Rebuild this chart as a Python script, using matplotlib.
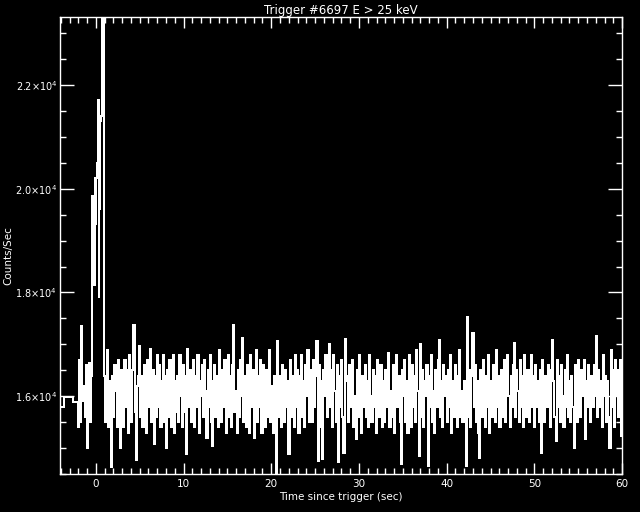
import numpy as np
import matplotlib
matplotlib.use("Agg")
import matplotlib.pyplot as plt
from matplotlib.ticker import MultipleLocator, FixedLocator, FixedFormatter

# slow (1.024 s) bins before the fast data starts
slow_edges = [-4.656, -3.632, -2.608, -2.048]
slow_rate = [15790, 15980, 15885]

# 0.128 s bins from -2.048 to -0.512
pre_rate = [15400, 16700, 15500, 17350, 15900, 16200, 15600, 16600,
            15000, 16300, 16650, 15500]

# 0.064 s bins from -0.512 to 0.960 (the burst)
burst_rate = [16400, 17400, 19850, 19850, 18900, 18150, 18900, 20200,
              19300, 20200, 20500, 20500, 21700, 17900, 19600, 21200,
              21300, 21400, 21400, 23800, 24500, 24000, 16500]

# 0.128 s bins from 0.960 onwards, 8 bins per row
post_rate = [
    16400, 15500, 16900, 15400, 16300, 15700, 14630, 16400,
    15600, 16600, 16100, 15400, 16700, 15600, 15000, 16500,
    16300, 15400, 16700, 15800, 16500, 15300, 16800, 16000,
    15500, 16500, 17380, 15700, 14770, 16200, 16400, 16960,
    15600, 16400, 15400, 16600, 16000, 15300, 16700, 15800,
    16300, 16920, 15500, 16500, 15080, 16400, 15600, 16800,
    15800, 16600, 15400, 16300, 16800, 15500, 16400, 15000,
    16500, 15600, 16700, 15400, 16200, 16800, 15300, 16300,
    15700, 16400, 15500, 16800, 16000, 15400, 16600, 15700,
    16400, 14880, 16920, 15800, 16500, 15500, 16300, 16700,
    15400, 16400, 15800, 16800, 15300, 16300, 16000, 16600,
    15600, 16700, 16100, 15190, 16500, 15800, 16800, 15500,
    15040, 16300, 16600, 15600, 16400, 15400, 16900, 16100,
    15500, 16500, 15800, 16700, 15300, 16300, 16800, 15600,
    16400, 15400, 16600, 17380, 15700, 16100, 15300, 16500,
    15600, 16700, 16000, 17120, 15500, 16400, 15400, 16600,
    16100, 15300, 16800, 15800, 16500, 15200, 16300, 16900,
    15500, 16400, 15800, 16700, 15300, 16600, 16000, 15400,
    16500, 15600, 16300, 16900, 15500, 16200, 15300, 16400,
    15800, 14480, 17060, 15600, 16400, 15400, 16600, 16100,
    15500, 16500, 15800, 16300, 14880, 16700, 15600, 16400,
    16000, 15400, 16800, 15800, 16500, 15300, 16400, 16800,
    15600, 16300, 15400, 16600, 16000, 16900, 15500, 16500,
    16100, 15500, 16700, 15800, 16400, 17060, 14750, 16600,
    16300, 15400, 14800, 16500, 16000, 16800, 15600, 16400,
    17000, 15800, 16500, 15400, 16800, 16100, 15500, 16600,
    14740, 16400, 15800, 16700, 15600, 14900, 17100, 16300,
    16400, 15500, 16600, 15800, 16300, 16700, 15400, 16000,
    15170, 16500, 15600, 16800, 16100, 15300, 16400, 15800,
    16600, 15600, 16300, 15400, 16800, 16000, 15500, 16500,
    15800, 16400, 15300, 16700, 16100, 15600, 16600, 15400,
    16300, 15500, 16500, 15800, 16400, 16830, 15400, 16100,
    15600, 16600, 15300, 16300, 16800, 15800, 16400, 15500,
    14690, 16500, 16000, 16700, 15500, 16300, 15300, 16800,
    16000, 15400, 16600, 15800, 16400, 15500, 16900, 16100,
    14850, 17000, 15600, 16500, 15400, 16300, 16000, 16600,
    14650, 16400, 15800, 16800, 15500, 16100, 15300, 16500,
    15800, 16700, 17080, 15600, 16300, 15400, 16600, 16000,
    16400, 15500, 16500, 15800, 16800, 15300, 16300, 15600,
    16600, 16000, 15400, 16400, 16900, 15600, 16100, 15500,
    16300, 15800, 14650, 17520, 15600, 16500, 15400, 16400,
    17210, 15800, 16600, 15500, 16300, 15300, 14810, 16500,
    15600, 16700, 16000, 15400, 16400, 15800, 16800, 15300,
    16300, 15600, 16600, 16000, 15500, 16900, 15800, 16400,
    15400, 16500, 16100, 15600, 16700, 15500, 16300, 16800,
    16000, 15400, 16400, 15800, 16600, 17020, 15600, 16500,
    16100, 15500, 16700, 15800, 16400, 15400, 16800, 16000,
    15600, 16500, 15500, 16300, 16800, 15800, 16400, 15400,
    16600, 15800, 16300, 15500, 16500, 14900, 16700, 16000,
    15500, 16400, 15800, 16600, 16000, 15400, 16500, 17080,
    16300, 15600, 15130, 16700, 15800, 16400, 15500, 16600,
    16000, 15400, 16500, 15800, 16800, 15600, 16300, 15500,
    16400, 15800, 15000, 16600, 16100, 15500, 16700, 16000,
    15600, 16500, 16000, 16700, 15170, 16300, 15800, 16600,
    16100, 15500, 16400, 15800, 16600, 16000, 17170, 15600,
    16500, 15800, 16300, 15400, 16800, 16000, 16400, 15500,
    16300, 15600, 15000, 16900, 15800, 16500, 15400, 16700,
    16000, 16500, 15600, 16700, 15230, 16400, 15800, 16100,
]

ytick_vals = [16000, 18000, 20000, 22000]
ytick_text = [r"$1.6{\times}10^{4}$", r"$1.8{\times}10^{4}$",
              r"$2.0{\times}10^{4}$", r"$2.2{\times}10^{4}$"]

# bin edges
pre_edges = -2.048 + 0.128 * np.arange(1, len(pre_rate) + 1)
burst_edges = -0.512 + 0.064 * np.arange(1, len(burst_rate) + 1)
post_edges = burst_edges[-1] + 0.128 * np.arange(1, len(post_rate) + 1)
edges = np.concatenate([slow_edges, pre_edges, burst_edges, post_edges])
rate = np.concatenate([slow_rate, pre_rate, burst_rate, post_rate])

fig = plt.figure(figsize=(6.4, 5.12), dpi=100, facecolor="black")
ax = fig.add_axes([0.094, 0.074, 0.878, 0.892], facecolor="black")

ax.stairs(rate, edges, color="white", lw=1.2, antialiased=False)

ax.set_xlim(-4.07, 60)
ax.set_ylim(14500, 23300)

ax.xaxis.set_major_locator(MultipleLocator(10))
ax.xaxis.set_minor_locator(MultipleLocator(1))
ax.yaxis.set_major_locator(FixedLocator(ytick_vals))
ax.yaxis.set_major_formatter(FixedFormatter(ytick_text))
ax.yaxis.set_minor_locator(MultipleLocator(500))

ax.tick_params(which="both", direction="in", top=True, right=True,
               colors="white", labelsize=7, width=1)
ax.tick_params(axis="x", which="major", length=8, labelsize=7.5)
ax.tick_params(axis="y", which="major", length=10, pad=2)
ax.tick_params(which="minor", length=4)
for s in ax.spines.values():
    s.set_color("white")
    s.set_linewidth(1)

ax.set_title("Trigger #6697 E > 25 keV", color="white", fontsize=8.5, pad=2)
ax.set_xlabel("Time since trigger (sec)", color="white", fontsize=7.5, labelpad=2)
fig.text(0.013, 0.5, "Counts/Sec", color="white", fontsize=7.5,
         rotation=90, ha="center", va="center")

fig.savefig("out.png", dpi=100, facecolor="black")
